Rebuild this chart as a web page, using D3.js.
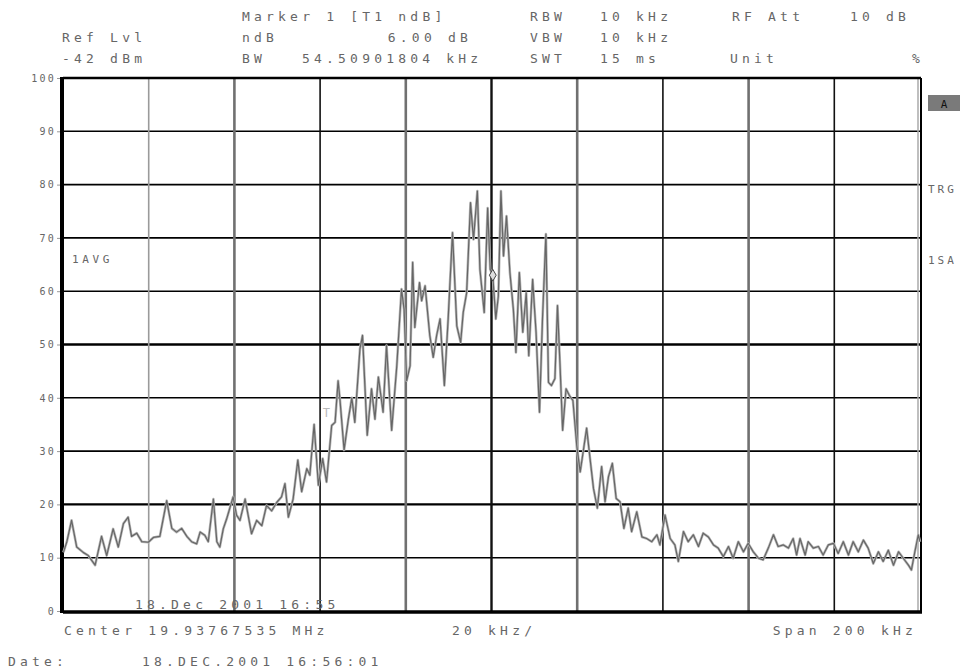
<!DOCTYPE html>
<html>
<head>
<meta charset="utf-8">
<script src="https://cdn.jsdelivr.net/npm/d3@7"></script>
<style>
  html, body { margin: 0; padding: 0; background: #fff; }
  svg text { font-family: "DejaVu Sans Mono", monospace; fill: #666; }
</style>
</head>
<body>
<svg id="chart" width="964" height="672"></svg>
<script>
// trace: offset from centre (kHz) and level (%)
const freqs = [
  -99.9, -99.1, -98.0, -96.8, -95.3, -94.1, -92.5, -91.0, -89.8, -88.3,
  -87.1, -85.9, -84.8, -84.0, -82.8, -81.6, -80.1, -78.9, -77.4, -75.8,
  -74.6, -73.5, -72.3, -71.1, -70.0, -68.8, -68.0, -66.9, -66.1, -64.9,
  -64.1, -63.4, -62.6, -61.8, -60.3, -59.5, -58.7, -57.5, -56.8, -56.0,
  -54.8, -53.6, -52.5, -51.3, -50.1, -49.0, -48.2, -47.4, -46.3, -45.2,
  -44.3, -43.1, -42.4, -41.4, -40.4, -39.4, -38.5, -37.3, -36.5, -35.8,
  -35.4, -34.4, -33.4, -32.6, -31.9, -30.7, -30.1, -29.0, -28.0, -27.2,
  -26.4, -25.3, -24.5, -23.3, -22.1, -21.0, -20.4, -19.8, -19.0, -18.4,
  -17.9, -16.8, -16.3, -15.5, -14.4, -13.6, -12.8, -12.0, -11.0, -10.1,
  -9.1, -8.1, -7.2, -6.6, -5.8, -4.9, -4.2, -3.3, -2.7, -1.7,
  -0.9, -0.3, 0.3, 1.0, 1.6, 2.2, 2.8, 3.5, 4.3, 5.1,
  5.7, 6.5, 7.3, 8.1, 8.7, 9.6, 10.4, 11.2, 11.9, 12.7,
  13.3, 14.0, 14.8, 15.4, 16.0, 16.6, 17.4, 18.2, 19.0, 19.9,
  20.7, 21.4, 22.2, 23.0, 23.8, 24.7, 25.7, 26.5, 27.3, 28.2,
  29.1, 30.0, 30.9, 31.9, 32.7, 33.9, 35.1, 36.2, 37.4, 38.6,
  39.3, 40.5, 41.7, 42.8, 43.6, 44.8, 45.9, 47.1, 48.3, 49.4,
  50.6, 51.8, 52.9, 54.1, 55.3, 56.4, 57.6, 58.8, 59.9, 61.1,
  62.3, 63.4, 64.6, 65.8, 66.9, 68.1, 69.3, 70.4, 71.2, 72.0,
  73.2, 73.9, 75.1, 76.3, 77.4, 78.6, 79.8, 80.9, 82.1, 83.3,
  84.4, 85.6, 86.8, 87.9, 89.1, 90.3, 91.4, 92.6, 93.8, 95.0,
  96.1, 97.3, 98.0, 98.8, 99.6, 100
];
const levels = [
  11, 13, 17, 12, 11, 10.4, 8.6, 14, 10.4, 15.4,
  12, 16.4, 17.6, 14, 14.6, 13, 12.9, 13.8, 14, 20.7,
  15.5, 14.8, 15.5, 14, 13, 12.6, 14.8, 14.2, 13, 21,
  13, 12, 15.4, 17.3, 21.4, 18, 17, 21, 18, 14.5,
  17, 16, 19.8, 18.8, 20.4, 21.4, 23.9, 17.6, 21, 28.3,
  22.4, 26.7, 25.5, 35, 23.6, 28.6, 24.2, 34.8, 35.4, 43.2,
  40, 30.2, 36, 40, 35.4, 49.2, 51.7, 33, 41.7, 36,
  43.9, 37.3, 49.8, 33.9, 46, 60.4, 56.6, 43.2, 46, 65.4,
  53.2, 61.6, 58.2, 61, 51.7, 47.6, 51.7, 54.8, 42.3, 55,
  71, 53.5, 50.4, 56, 59.7, 76.6, 69.7, 78.8, 64.1, 56,
  75.6, 64.1, 62.9, 54.8, 59.1, 78.8, 66.6, 74.1, 63.5, 56.6,
  48.5, 63.5, 52.3, 59.7, 47.9, 62.2, 52.3, 37.3, 54.8, 70.7,
  42.9, 42.3, 43.6, 57.3, 46, 33.9, 41.7, 40.4, 39.5, 31,
  26.1, 29.9, 34.3, 28.6, 23, 19.3, 27.1, 20.5, 25.2, 27.7,
  21.1, 20.5, 15.5, 19.3, 14.9, 18.6, 13.9, 13.6, 13, 14.3,
  12.4, 18, 13.6, 12.4, 9.3, 14.9, 13, 14.3, 12.1, 14.6,
  13.9, 12.4, 11.8, 10.2, 12.1, 9.9, 13, 11.1, 12.7, 11.1,
  9.9, 9.6, 11.8, 14.3, 12.1, 12.4, 11.8, 13.6, 10.5, 13.6,
  10.5, 13, 11.8, 12.1, 10.5, 12.4, 12.7, 10.8, 13, 10.5,
  13, 11.1, 13.3, 11.8, 8.9, 11.1, 9.3, 11.4, 8.6, 11.1,
  9.9, 8.6, 7.7, 11.1, 14.3, 13
];

const yTicks = [0, 10, 20, 30, 40, 50, 60, 70, 80, 90, 100];
const xGrid = [-100, -80, -60, -40, -20, 0, 20, 40, 60, 80, 100];

// marker 1 on the trace and the T1 ndB point
const marker1 = [0.3, 63];
const markerT1 = [-39.4, 36];

// instrument settings printed round the screen
const headerRows = [
  ['Ref Lvl', 'ndB', '6.00 dB', 'VBW', '10 kHz', '', ''],
  ['-42 dBm', 'BW', '54.50901804 kHz', 'SWT', '15 ms', 'Unit', '%']
];
const markerTitle = 'Marker 1 [T1 ndB]';
const rbwRow = ['RBW', '10 kHz', 'RF Att', '10 dB'];
const centerLabel = 'Center 19.93767535 MHz';
const divLabel = '20 kHz/';
const spanLabel = 'Span 200 kHz';
const stampLabel = '18.Dec 2001 16:55';
const dateLabel = 'Date:';
const dateValue = '18.DEC.2001  16:56:01';
const traceLabel = '1AVG';
const sideLabels = ['TRG', '1SA'];

const svg = d3.select('#chart');
const plotL = 63, plotR = 920, plotT = 78, plotB = 611;

let x = d3.scaleLinear().domain([-100, 100]).range([plotL, plotR]);
let y = d3.scaleLinear().domain([0, 100]).range([plotB, plotT]);

// monospace text with the wide pitch of the analyser font
function label(str, px, py, opt = {}) {
  return svg.append('text')
    .attr('x', px)
    .attr('y', py)
    .attr('text-anchor', opt.anchor || 'start')
    .style('font-size', (opt.size || 13) + 'px')
    .style('letter-spacing', (opt.spacing != null ? opt.spacing : 4.2) + 'px')
    .text(str);
}

// header
label(markerTitle, 242, 21);
label(rbwRow[0], 530, 21);
label(rbwRow[1], 600, 21);
label(rbwRow[2], 732, 21);
label(rbwRow[3], 850, 21);

label(headerRows[0][0], 62, 42);
label(headerRows[0][1], 242, 42);
label(headerRows[0][2], 472, 42, { anchor: 'end' });
label(headerRows[0][3], 530, 42);
label(headerRows[0][4], 600, 42);

label(headerRows[1][0], 62, 63);
label(headerRows[1][1], 242, 63);
label(headerRows[1][2], 302, 63);
label(headerRows[1][3], 530, 63);
label(headerRows[1][4], 600, 63);
label(headerRows[1][5], 730, 63);
label(headerRows[1][6], 912, 63);

// horizontal grid
svg.append('g')
  .selectAll('line')
  .data(yTicks.slice(1, -1))
  .join('line')
  .attr('x1', plotL)
  .attr('x2', plotR)
  .attr('y1', d => y(d))
  .attr('y2', d => y(d))
  .attr('stroke', '#000')
  .attr('stroke-width', d => (d === 20 || d === 50 ? 2.4 : 1.6));

// vertical grid, alternating grey / black as on the screen
svg.append('g')
  .selectAll('line')
  .data(xGrid.slice(1, -1))
  .join('line')
  .attr('x1', d => x(d))
  .attr('x2', d => x(d))
  .attr('y1', plotT)
  .attr('y2', plotB)
  .attr('stroke', (d, i) => (i === 0 ? '#9a9a9a' : i % 2 === 1 ? '#707070' : '#111'))
  .attr('stroke-width', (d, i) => (i === 4 ? 2.4 : i % 2 === 1 ? 2.6 : 1.6));

// frame
svg.append('line').attr('x1', plotR - 2).attr('x2', plotR - 2).attr('y1', plotT).attr('y2', plotB)
  .attr('stroke', '#aaa').attr('stroke-width', 1.5);
svg.append('line').attr('x1', plotL).attr('x2', plotR + 1).attr('y1', plotT).attr('y2', plotT)
  .attr('stroke', '#000').attr('stroke-width', 2.5);
svg.append('line').attr('x1', plotR + 1).attr('x2', plotR + 1).attr('y1', plotT).attr('y2', plotB)
  .attr('stroke', '#000').attr('stroke-width', 2);
svg.append('line').attr('x1', plotL).attr('x2', plotR + 2).attr('y1', plotB + 1).attr('y2', plotB + 1)
  .attr('stroke', '#000').attr('stroke-width', 3.5);
svg.append('line').attr('x1', plotL - 1).attr('x2', plotL - 1).attr('y1', plotT - 1).attr('y2', plotB + 2)
  .attr('stroke', '#000').attr('stroke-width', 4);

// y axis labels
let yAxis = d3.axisLeft(y).tickValues(yTicks).tickSize(3).tickPadding(1);
let ga = svg.append('g').attr('transform', `translate(${plotL - 3},0)`).call(yAxis);
ga.select('.domain').remove();
ga.selectAll('.tick line').attr('stroke', '#999');
ga.selectAll('.tick text')
  .style('font-size', '10px')
  .style('letter-spacing', '2.2px')
  .style('font-family', '"DejaVu Sans Mono", monospace')
  .attr('fill', '#666');

// trace
let pts = freqs.map((f, i) => [f, levels[i]]);
let line = d3.line().x(d => x(d[0])).y(d => y(d[1]));
svg.append('path')
  .datum(pts)
  .attr('fill', 'none')
  .attr('stroke', '#b8b8b8')
  .attr('stroke-width', 2.6)
  .attr('stroke-linejoin', 'round')
  .attr('d', line);
svg.append('path')
  .datum(pts)
  .attr('fill', 'none')
  .attr('stroke', '#666')
  .attr('stroke-width', 1.2)
  .attr('stroke-linejoin', 'round')
  .attr('d', line);

// markers
svg.append('path')
  .attr('d', d3.symbol(d3.symbolDiamond, 40)())
  .attr('transform', `translate(${x(marker1[0])},${y(marker1[1])})`)
  .attr('fill', '#ddd')
  .attr('stroke', '#444')
  .attr('stroke-width', 1);
label('T', x(markerT1[0]), y(markerT1[1]) - 2, { size: 12, spacing: 0 }).style('fill', '#bbb');

// in-plot labels
label(traceLabel, 72, 263, { size: 11, spacing: 3.6 });
label(stampLabel, 135, 609);

// right side annotations
svg.append('rect').attr('x', 928).attr('y', 95).attr('width', 32).attr('height', 16).attr('fill', '#7a7a7a');
label('A', 944, 108, { anchor: 'middle', size: 11, spacing: 0 }).style('fill', '#111');
label(sideLabels[0], 928, 193, { size: 11, spacing: 3 });
label(sideLabels[1], 928, 264, { size: 11, spacing: 3 });

// footer
label(centerLabel, 64, 635);
label(divLabel, 452, 635);
label(spanLabel, 917, 635, { anchor: 'end' });
label(dateLabel, 8, 666);
label(dateValue, 142, 666);
</script>
</body>
</html>
